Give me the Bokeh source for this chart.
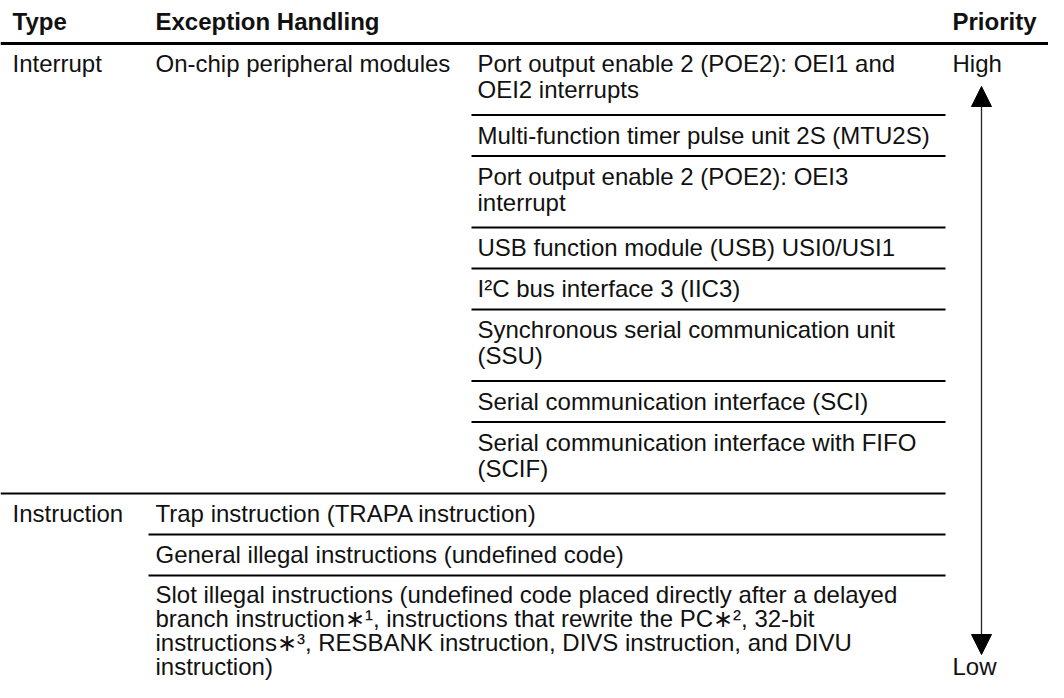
from bokeh.plotting import figure
from bokeh.models import ColumnDataSource, Range1d, Arrow, NormalHead
from bokeh.core.properties import value
from bokeh.embed import file_html
from bokeh.resources import INLINE

# ---------------- data ----------------
headers = ["Type", "Exception Handling", "Priority"]
types = ["Interrupt", "Instruction"]
interrupt_group = "On-chip peripheral modules"
interrupt_sources = [
    "Port output enable 2 (POE2): OEI1 and\nOEI2 interrupts",
    "Multi-function timer pulse unit 2S (MTU2S)",
    "Port output enable 2 (POE2): OEI3\ninterrupt",
    "USB function module (USB) USI0/USI1",
    "I\u00b2C bus interface 3 (IIC3)",
    "Synchronous serial communication unit\n(SSU)",
    "Serial communication interface (SCI)",
    "Serial communication interface with FIFO\n(SCIF)",
]
instruction_sources = [
    "Trap instruction (TRAPA instruction)",
    "General illegal instructions (undefined code)",
    "Slot illegal instructions (undefined code placed directly after a delayed\n"
    "branch instruction\u2217\u00b9, instructions that rewrite the PC\u2217\u00b2, 32-bit\n"
    "instructions\u2217\u00b3, RESBANK instruction, DIVS instruction, and DIVU\n"
    "instruction)",
]
priority_labels = ["High", "Low"]

# ---------------- layout ----------------
W, H = 1048, 682
FONT = value("Liberation Sans")
FS = "24px"
X_TYPE, X_EXC, X_SRC, X_PRI, X_ARROW = 12, 155, 477, 952, 981
LX_EXC, LX_SRC, LX_END = 148, 471, 945
HEADER_TEXT_Y, HEADER_LINE_Y = 21, 43
ROW_H, EXTRA_LINE_H, PAD, LINE_SP = 41, 30.5, 20, 26
LAST_PAD, LAST_SP = 19, 24

p = figure(width=W, height=H, output_backend="svg", toolbar_location=None,
           x_range=Range1d(0, W), y_range=Range1d(H, 0),
           min_border=0, outline_line_color=None)
p.axis.visible = False
p.grid.visible = False
p.background_fill_color = "white"
p.border_fill_color = "white"

tx, ty, tt = [], [], []            # normal text
bx, by, bt = [], [], []            # bold text
sx0, sx1, sy, sw = [], [], [], []  # separators


def add_cell(x, top, text, pad=PAD, sp=LINE_SP):
    ys = []
    for i, line in enumerate(text.split("\n")):
        tx.append(x)
        ty.append(top + pad + i * sp)
        tt.append(line)
        ys.append(top + pad + i * sp)
    return ys


def row_height(text):
    return ROW_H + text.count("\n") * EXTRA_LINE_H


# header
for x, h in zip([X_TYPE, X_EXC, X_PRI], headers):
    bx.append(x); by.append(HEADER_TEXT_Y); bt.append(h)
sx0.append(0); sx1.append(W); sy.append(HEADER_LINE_Y); sw.append(3)

# interrupt block
y = HEADER_LINE_Y
add_cell(X_TYPE, y, types[0])
add_cell(X_EXC, y, interrupt_group)
high_y = add_cell(X_PRI, y, priority_labels[0])[0]
for i, src in enumerate(interrupt_sources):
    add_cell(X_SRC, y, src)
    y += row_height(src)
    last = i == len(interrupt_sources) - 1
    sx0.append(0 if last else LX_SRC); sx1.append(LX_END); sy.append(y); sw.append(2)

# instruction block
add_cell(X_TYPE, y, types[1])
for i, src in enumerate(instruction_sources):
    if i < len(instruction_sources) - 1:
        add_cell(X_EXC, y, src)
        y += row_height(src)
        sx0.append(LX_EXC); sx1.append(LX_END); sy.append(y); sw.append(2)
    else:
        ys = add_cell(X_EXC, y, src, pad=LAST_PAD, sp=LAST_SP)

low_y = ys[-1]
tx.append(X_PRI); ty.append(low_y); tt.append(priority_labels[1])

# separators
p.segment(x0="x0", y0="y", x1="x1", y1="y", line_width="w", line_color="black",
          source=ColumnDataSource(dict(x0=sx0, x1=sx1, y=sy, w=sw)))

# texts
p.text(x="x", y="y", text="t", source=ColumnDataSource(dict(x=tx, y=ty, t=tt)),
       text_font=FONT, text_font_size=FS, text_color="#111111",
       text_baseline="middle", text_align="left")
p.text(x="x", y="y", text="t", source=ColumnDataSource(dict(x=bx, y=by, t=bt)),
       text_font=FONT, text_font_size=FS, text_font_style="bold", text_color="#111111",
       text_baseline="middle", text_align="left")

# priority arrow
p.add_layout(Arrow(x_start=X_ARROW, y_start=low_y - 12, x_end=X_ARROW, y_end=high_y + 23,
                   line_width=1.3, line_color="#222222",
                   start=NormalHead(size=20, fill_color="black", line_color="black", line_width=1),
                   end=NormalHead(size=20, fill_color="black", line_color="black", line_width=1)))

open("out.html", "w").write(file_html(p, INLINE))
